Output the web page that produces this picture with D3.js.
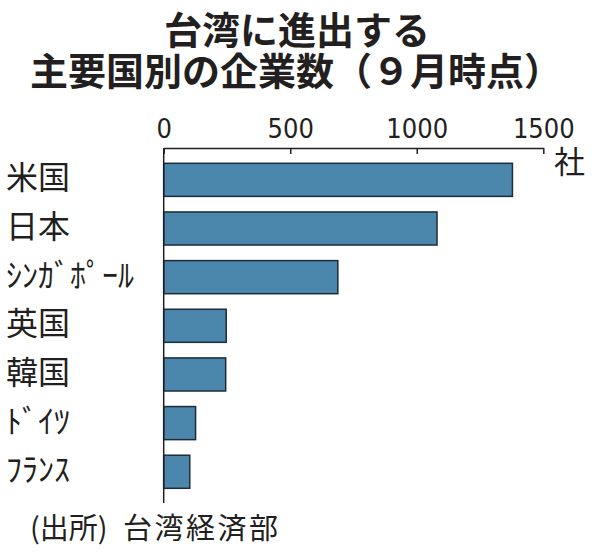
<!DOCTYPE html>
<html>
<head>
<meta charset="utf-8">
<script src="https://cdn.jsdelivr.net/npm/d3@7"></script>
<style>
  body { margin: 0; background: #fff; }
  svg { display: block; }
  text { fill: #231f20; }
</style>
</head>
<body>
<div id="chart"></div>
<script>
// data
const categories = ['米国', '日本', 'ｼﾝｶﾞﾎﾟｰﾙ', '英国', '韓国', 'ﾄﾞｲﾂ', 'ﾌﾗﾝｽ'];
const companies = [1378, 1080, 688, 247, 245, 126, 103];
const tickValues = [0, 500, 1000, 1500];
const titleLines = ['台湾に進出する', '主要国別の企業数（９月時点）'];
const unitLabel = '社';

const width = 596;
const height = 560;
const jp = '"Noto Sans CJK JP", "Noto Sans", sans-serif';

const svg = d3.select('#chart')
    .append('svg')
    .attr('width', width)
    .attr('height', height);

// title
svg.append('text')
    .attr('x', 297)
    .attr('y', 44)
    .attr('text-anchor', 'middle')
    .attr('font-family', jp)
    .attr('font-weight', 700)
    .attr('font-size', 38)
    .text(titleLines[0]);

svg.append('text')
    .attr('x', 296)
    .attr('y', 85)
    .attr('text-anchor', 'middle')
    .attr('font-family', jp)
    .attr('font-weight', 700)
    .attr('font-size', 38)
    .text(titleLines[1]);

// scales
const x = d3.scaleLinear()
    .domain([0, 1500])
    .range([163.7, 543.3]);

const y = d3.scaleBand()
    .domain(categories)
    .range([163.3, 488.3])
    .paddingInner(0.32)
    .paddingOuter(0);

// top axis
const axis = svg.append('g')
    .attr('transform', 'translate(0,148)')
    .call(d3.axisTop(x)
        .tickValues(tickValues)
        .tickSizeInner(-6)
        .tickSizeOuter(0)
        .tickPadding(10)
        .tickFormat(d3.format('d')));

axis.select('.domain')
    .attr('stroke', '#231f20')
    .attr('stroke-width', 1.5);
axis.selectAll('.tick line')
    .attr('stroke', '#231f20')
    .attr('stroke-width', 1.5);
axis.selectAll('.tick text')
    .attr('font-family', '"DejaVu Sans Condensed", "DejaVu Sans", sans-serif')
    .attr('font-stretch', 'condensed')
    .attr('font-size', 27)
    .attr('fill', '#231f20');

svg.append('text')
    .attr('x', 554)
    .attr('y', 173)
    .attr('font-family', jp)
    .attr('font-size', 31)
    .text(unitLabel);

// bars
svg.selectAll('.bar')
    .data(companies)
    .enter()
    .append('rect')
    .attr('class', 'bar')
    .attr('x', x(0))
    .attr('y', (d, i) => y(categories[i]))
    .attr('width', d => x(d) - x(0))
    .attr('height', y.bandwidth())
    .attr('fill', '#4b86ac')
    .attr('stroke', '#1d2c38')
    .attr('stroke-width', 1.5);

// baseline (vertical)
svg.append('line')
    .attr('x1', x(0))
    .attr('x2', x(0))
    .attr('y1', 148)
    .attr('y2', 503)
    .attr('stroke', '#231f20')
    .attr('stroke-width', 1.5);

// category labels
svg.selectAll('.label')
    .data(categories)
    .enter()
    .append('text')
    .attr('class', 'label')
    .attr('x', 6)
    .attr('y', d => y(d) + y.bandwidth() / 2 + 9.5)
    .attr('font-family', jp)
    .attr('font-size', 32)
    .text(d => d);

// source
svg.append('text')
    .attr('x', 30)
    .attr('y', 539)
    .attr('font-family', jp)
    .attr('font-size', 29)
    .text('(出所)');

svg.append('text')
    .attr('x', 123)
    .attr('y', 539)
    .attr('font-family', jp)
    .attr('font-size', 29)
    .attr('letter-spacing', 2.5)
    .text('台湾経済部');
</script>
</body>
</html>
